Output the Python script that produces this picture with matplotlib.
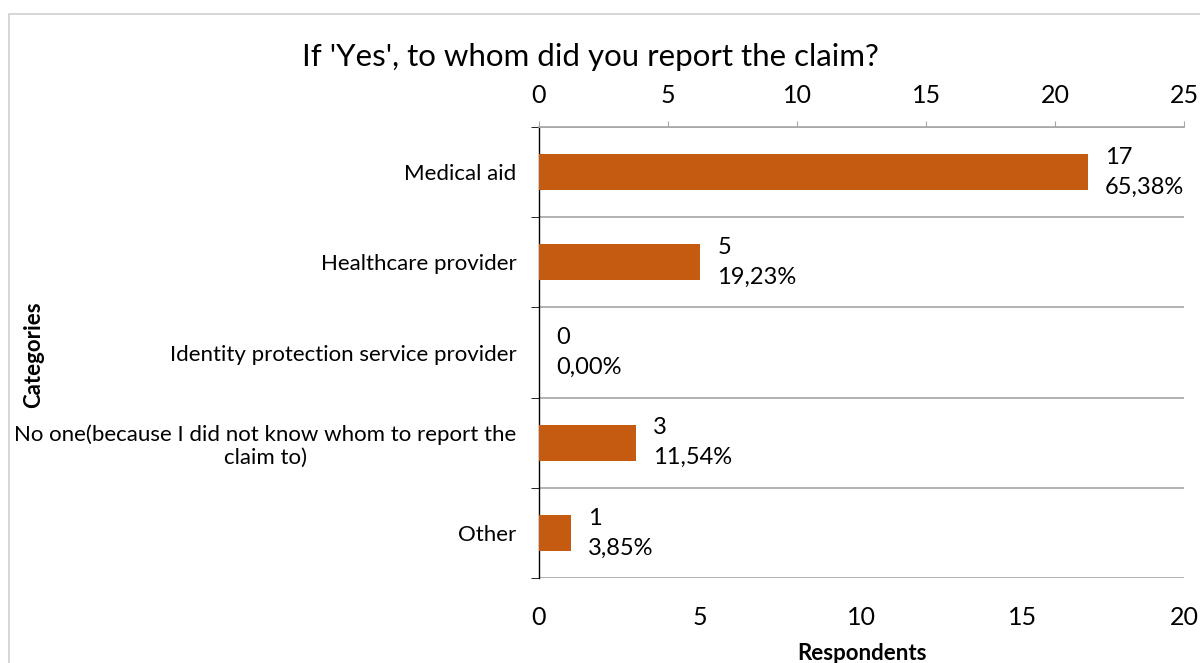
import matplotlib
matplotlib.use("Agg")
import matplotlib.pyplot as plt
from matplotlib.patches import Rectangle

plt.rcParams["font.family"] = ["Lato", "DejaVu Sans"]

categories = [
    "Medical aid",
    "Healthcare provider",
    "Identity protection service provider",
    "No one(because I did not know whom to report the\nclaim to)",
    "Other",
]
respondents = [17, 5, 0, 3, 1]
percent_labels = ["65,38%", "19,23%", "0,00%", "11,54%", "3,85%"]
bottom_ticks = [0, 5, 10, 15, 20]
top_ticks = [0, 5, 10, 15, 20, 25]

BAR_COLOR = "#C55A11"
GRID_COLOR = "#A6A6A6"


def main():
    fig = plt.figure(figsize=(12, 6.63), dpi=100)
    ax = fig.add_axes([0.449, 0.128, 0.538, 0.6805])

    pos = list(range(len(categories)))
    ax.barh(pos, respondents, height=0.4, color=BAR_COLOR, zorder=3)
    ax.set_xlim(0, 20)
    ax.set_ylim(4.5, -0.5)

    ax.set_yticks(pos)
    ax.set_yticklabels(categories, fontsize=16)
    for lab in ax.get_yticklabels():
        lab.set_multialignment("center")
    ax.tick_params(axis="y", which="major", length=0, pad=16)
    ax.set_yticks([p - 0.5 for p in pos] + [4.5], minor=True)
    ax.tick_params(axis="y", which="minor", length=6, direction="out", color="black")
    ax.grid(axis="y", which="minor", color=GRID_COLOR, linewidth=1.2, zorder=0)

    ax.set_xticks(bottom_ticks)
    ax.tick_params(axis="x", length=0, pad=20, labelsize=18)

    for side in ["top", "right", "bottom"]:
        ax.spines[side].set_visible(False)
    ax.spines["left"].set_color("black")
    ax.spines["left"].set_linewidth(1.0)

    # value + percentage labels
    for p, v, pct in zip(pos, respondents, percent_labels):
        ax.annotate(str(v), (v, p), xytext=(17, 15), textcoords="offset pixels",
                    ha="left", va="center", fontsize=17, zorder=4)
        if v + 4 > 20:
            ax.annotate(pct, (20, p), xytext=(0, -15), textcoords="offset pixels",
                        ha="right", va="center", fontsize=17, zorder=4)
        else:
            ax.annotate(pct, (v, p), xytext=(17, -15), textcoords="offset pixels",
                        ha="left", va="center", fontsize=17, zorder=4)

    # secondary axis on top
    top = ax.twiny()
    top.set_xlim(0, 25)
    top.set_xticks(top_ticks)
    top.tick_params(axis="x", length=4.5, direction="out", color=GRID_COLOR,
                    pad=10, labelsize=18)
    for side in ["right", "bottom", "left"]:
        top.spines[side].set_visible(False)
    top.spines["top"].set_color(GRID_COLOR)
    top.spines["top"].set_linewidth(1.2)

    ax.set_xlabel("Respondents", fontsize=16, fontweight="bold", labelpad=10)
    fig.text(0.028, 0.465, "Categories", rotation=90, fontsize=16,
             fontweight="bold", ha="center", va="center")
    fig.text(0.4917, 0.914, "If 'Yes', to whom did you report the claim?",
             fontsize=22.5, ha="center", va="center")

    fig.patches.append(Rectangle((9 / 1200, -0.1), 1.2, 1.1 - 14 / 663,
                                 transform=fig.transFigure, fill=False,
                                 edgecolor="#D0D0D0", linewidth=1.2))

    fig.savefig("out.png", dpi=100)


if __name__ == "__main__":
    main()
